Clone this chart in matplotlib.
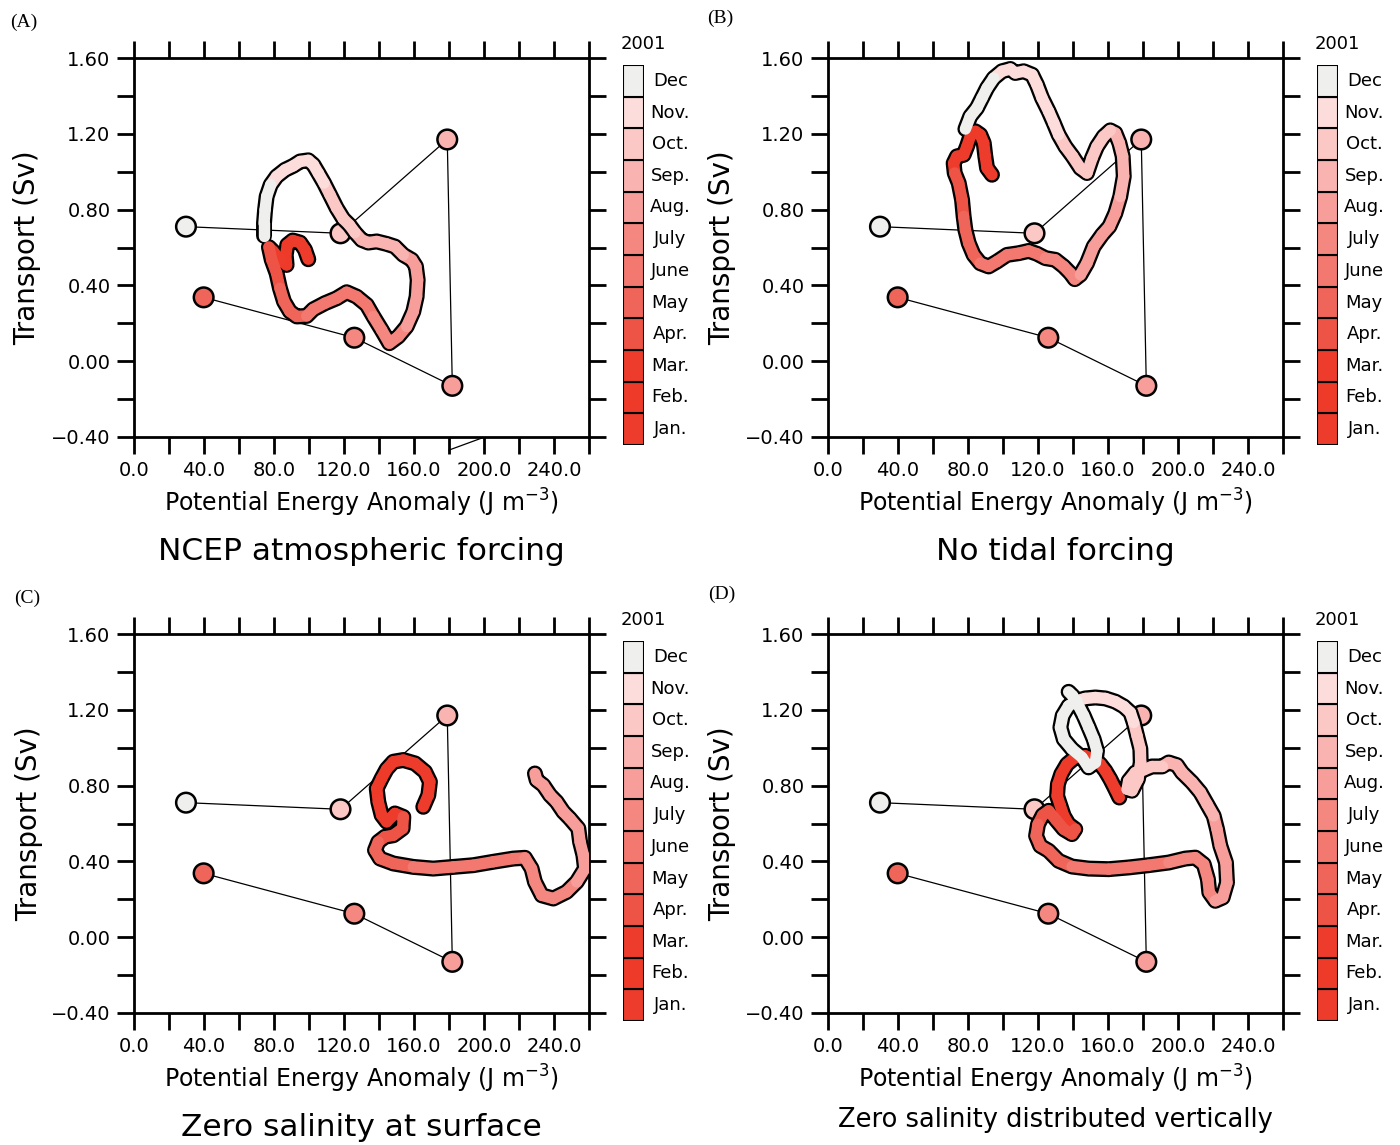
import matplotlib
matplotlib.use("Agg")
import matplotlib.pyplot as plt
from matplotlib.collections import LineCollection
from matplotlib.ticker import MultipleLocator, FuncFormatter

W, H = 1400, 1145

month_names = ['Jan.', 'Feb.', 'Mar.', 'Apr.', 'May', 'June', 'July',
               'Aug.', 'Sep.', 'Oct.', 'Nov.', 'Dec']
month_colors = ['#ee3c2c', '#ee3a29', '#ee3c2c', '#ee5446', '#f0655a', '#f27870',
                '#f4877f', '#f79e9a', '#f9b3b0', '#fbc8c5', '#fcdddb', '#efefed']

# monthly observations (same in every panel)
obs_x = [39.8, 125.9, 181.9, 179.0, 118.0, 29.7]
obs_y = [0.337, 0.124, -0.13, 1.17, 0.675, 0.71]
obs_month = [4, 6, 7, 8, 9, 11]

# stray segment under panel A
stray_x = [180.0, 198.9]
stray_y = [-0.469, -0.405]

# (A) NCEP atmospheric forcing
a_x = [99.6, 97.7, 94.9, 90.7, 87.6, 86.7, 87.2, 83.4, 79.6, 77.1, 78.7, 81.5, 83.4,
       85.7, 89.1, 93.0, 98.7, 102.5, 109.1, 115.8, 121.5, 127.2, 133.0, 136.8, 141.5,
       145.9, 151.0, 155.8, 159.6, 161.5, 162.1, 161.1, 158.7, 153.9, 149.1, 144.4,
       138.7, 133.9, 130.1, 126.3, 123.0, 119.6, 115.8, 112.0, 108.6, 105.3, 102.5,
       99.6, 94.9, 91.0, 86.3, 81.5, 78.1, 75.8, 74.9, 74.3, 74.3]
a_y = [0.538, 0.588, 0.626, 0.637, 0.614, 0.561, 0.508, 0.535, 0.579, 0.602, 0.535,
       0.464, 0.385, 0.315, 0.262, 0.236, 0.239, 0.274, 0.306, 0.332, 0.364, 0.341,
       0.297, 0.236, 0.165, 0.095, 0.130, 0.183, 0.262, 0.341, 0.429, 0.500, 0.535,
       0.561, 0.605, 0.619, 0.632, 0.626, 0.640, 0.679, 0.720, 0.751, 0.808, 0.878,
       0.940, 0.993, 1.037, 1.060, 1.054, 1.031, 1.010, 0.975, 0.931, 0.869, 0.799,
       0.729, 0.662]
a_m = [0, 0, 0, 0, 0, 1, 1, 1, 2, 2, 3, 3, 3, 4, 4, 4, 4, 5, 5, 5, 5, 5, 5, 5, 6, 6,
       6, 6, 7, 7, 7, 7, 7, 7, 8, 8, 8, 8, 8, 8, 9, 9, 9, 9, 9, 10, 10, 10, 10, 10, 10,
       10, 10, 11, 11, 11, 11]

# (B) No tidal forcing
b_x = [93.7, 90.9, 89.9, 89.0, 87.0, 84.2, 81.3, 79.4, 77.5, 73.7, 71.8, 72.4, 74.7,
       76.6, 77.5, 78.5, 80.4, 83.2, 87.0, 91.8, 96.6, 102.3, 109.0, 114.7, 119.4,
       124.2, 129.9, 134.7, 138.5, 141.0, 144.2, 148.0, 151.8, 156.6, 160.8, 164.2,
       167.0, 169.0, 168.4, 166.5, 164.2, 161.3, 157.5, 153.7, 150.9, 148.0, 144.2,
       139.8, 135.6, 131.8, 129.0, 126.1, 122.3, 119.4, 116.6, 111.8, 107.0, 104.2,
       99.4, 94.7, 90.9, 88.0, 85.1, 81.3, 78.5]
b_y = [0.984, 1.019, 1.081, 1.151, 1.195, 1.213, 1.186, 1.133, 1.089, 1.081, 1.045,
       0.993, 0.940, 0.852, 0.764, 0.693, 0.623, 0.561, 0.517, 0.500, 0.526, 0.561,
       0.570, 0.582, 0.567, 0.544, 0.535, 0.500, 0.464, 0.433, 0.456, 0.517, 0.605,
       0.667, 0.711, 0.781, 0.869, 0.975, 1.081, 1.151, 1.204, 1.218, 1.186, 1.133,
       1.072, 0.993, 1.019, 1.081, 1.133, 1.195, 1.257, 1.318, 1.389, 1.459, 1.512,
       1.530, 1.521, 1.542, 1.530, 1.494, 1.442, 1.389, 1.336, 1.292, 1.225]
b_m = [0, 0, 0, 0, 0, 1, 1, 1, 1, 2, 2, 2, 3, 3, 3, 4, 4, 4, 4, 5, 5, 5, 5, 5, 5, 5,
       6, 6, 6, 6, 6, 7, 7, 7, 7, 7, 7, 8, 8, 8, 8, 8, 9, 9, 9, 9, 9, 9, 9, 9, 10, 10,
       10, 10, 10, 10, 10, 10, 10, 10, 11, 11, 11, 11, 11]

# (C) Zero salinity at surface
c_x = [165.3, 168.2, 169.1, 166.3, 160.6, 153.9, 148.2, 144.4, 141.5, 138.7, 139.6,
       141.5, 144.4, 149.1, 153.9, 153.5, 148.2, 143.4, 139.6, 137.7, 140.6, 148.2,
       159.6, 171.0, 182.5, 193.9, 205.3, 216.8, 223.4, 227.2, 229.1, 233.0, 239.6,
       247.2, 253.0, 257.7, 256.8, 254.9, 253.9, 249.1, 245.3, 241.5, 237.7, 233.9,
       230.1, 229.1]
c_y = [0.688, 0.750, 0.820, 0.873, 0.917, 0.935, 0.926, 0.887, 0.838, 0.785, 0.714,
       0.644, 0.609, 0.653, 0.635, 0.574, 0.538, 0.530, 0.503, 0.459, 0.415, 0.389,
       0.371, 0.362, 0.371, 0.380, 0.398, 0.415, 0.419, 0.362, 0.292, 0.221, 0.204,
       0.239, 0.292, 0.362, 0.433, 0.503, 0.574, 0.626, 0.662, 0.714, 0.750, 0.802,
       0.829, 0.864]
c_m = [0, 0, 0, 0, 0, 0, 0, 0, 1, 1, 1, 2, 2, 2, 2, 3, 3, 3, 3, 4, 4, 4, 4, 5, 5, 5,
       5, 5, 5, 6, 6, 6, 6, 6, 6, 7, 7, 7, 7, 7, 7, 7, 7, 7, 7, 7]

# (D) Zero salinity distributed vertically
d_x = [166.5, 164.2, 161.3, 158.5, 155.6, 151.8, 147.0, 141.3, 136.6, 133.3, 131.4,
       130.9, 132.8, 134.7, 137.5, 141.3, 139.4, 134.7, 130.3, 126.1, 122.7, 120.0,
       118.9, 121.3, 126.1, 131.8, 139.4, 149.0, 160.4, 171.8, 183.2, 194.7, 204.2,
       209.9, 214.7, 217.1, 217.9, 221.3, 225.5, 228.0, 227.4, 224.2, 222.3, 220.4,
       216.6, 212.8, 208.0, 202.3, 199.4, 194.7, 190.9, 185.1, 180.4, 175.6, 171.8,
       170.9, 173.7, 177.1, 178.7, 178.5, 176.6, 174.7, 172.8, 169.0, 164.2, 158.5,
       152.8, 147.0, 142.3, 137.5, 134.1, 132.8, 134.7, 139.4, 145.1, 148.9, 152.8,
       153.7, 151.8, 149.0, 146.1, 143.2, 139.8, 137.5]
d_y = [0.737, 0.781, 0.834, 0.878, 0.913, 0.940, 0.957, 0.949, 0.913, 0.861, 0.808,
       0.746, 0.693, 0.640, 0.596, 0.570, 0.544, 0.570, 0.619, 0.667, 0.644, 0.596,
       0.535, 0.482, 0.456, 0.403, 0.373, 0.362, 0.359, 0.368, 0.380, 0.394, 0.415,
       0.420, 0.385, 0.306, 0.236, 0.192, 0.209, 0.288, 0.394, 0.482, 0.570, 0.640,
       0.702, 0.764, 0.817, 0.869, 0.908, 0.922, 0.901, 0.901, 0.883, 0.869, 0.825,
       0.781, 0.773, 0.834, 0.922, 0.993, 1.063, 1.133, 1.186, 1.218, 1.243, 1.260,
       1.265, 1.260, 1.248, 1.221, 1.169, 1.107, 1.045, 0.993, 0.949, 0.896, 0.922,
       0.984, 1.045, 1.107, 1.169, 1.221, 1.274, 1.295]
d_m = [0, 0, 0, 0, 0, 0, 0, 1, 1, 1, 1, 2, 2, 2, 2, 2, 3, 3, 3, 3, 3, 3, 4, 4, 4, 4,
       4, 5, 5, 5, 5, 5, 6, 6, 6, 6, 6, 6, 7, 7, 7, 7, 7, 7, 8, 8, 8, 8, 8, 8, 8, 9, 9,
       9, 9, 9, 9, 9, 9, 9, 9, 9, 10, 10, 10, 10, 10, 10, 10, 11, 11, 11, 11, 11, 11,
       11, 11, 11, 11, 11, 11, 11, 11, 11]

panels = [
  ('(A)', 'NCEP atmospheric forcing', a_x, a_y, a_m),
  ('(B)', 'No tidal forcing', b_x, b_y, b_m),
  ('(C)', 'Zero salinity at surface', c_x, c_y, c_m),
  ('(D)', 'Zero salinity distributed vertically', d_x, d_y, d_m),
]

# pixel layout: axes left, top; colorbar left, top; label positions and title size
layout = [
  dict(ax=(134, 58), cb=(623, 65), tag=(10, 22), ylab=27, xlab=503, title=552, tsize=22.5),
  dict(ax=(828, 58), cb=(1317, 65), tag=(707, 18), ylab=722, xlab=503, title=552, tsize=22.5),
  dict(ax=(134, 634), cb=(623, 641), tag=(14, 598), ylab=29, xlab=1079, title=1128, tsize=22.5),
  dict(ax=(828, 634), cb=(1317, 641), tag=(708, 594), ylab=722, xlab=1079, title=1120, tsize=18.5),
]
AX_W, AX_H = 455, 379
CB_W, CB_H = 21, 380


def fx(px):
  return px / W


def fy(py):
  return 1 - py / H


def xfmt(v, pos):
  return '%.1f' % v if round(v) % 40 == 0 else ''


def yfmt(v, pos):
  v = round(v, 2)
  if abs(round(v / 0.4) * 0.4 - v) > 1e-6:
    return ''
  return ('%.2f' % v).replace('-', '\u2212')


def draw_panel(fig, tag, title, x, y, m, lay, stray=False):
  left, top = lay['ax']
  ax = fig.add_axes([fx(left), fy(top + AX_H), fx(AX_W), AX_H / H])
  ax.set_xlim(0, 260)
  ax.set_ylim(-0.4, 1.6)
  ax.xaxis.set_major_locator(MultipleLocator(20))
  ax.yaxis.set_major_locator(MultipleLocator(0.2))
  ax.xaxis.set_major_formatter(FuncFormatter(xfmt))
  ax.yaxis.set_major_formatter(FuncFormatter(yfmt))
  ax.tick_params(direction='out', length=12, width=2, top=True, right=True,
                 labelsize=14, pad=5)
  for sp in ax.spines.values():
    sp.set_linewidth(2)

  # observations
  ax.plot(obs_x, obs_y, color='black', lw=0.9, zorder=2)
  ax.scatter(obs_x, obs_y, s=200, c=[month_colors[k] for k in obs_month],
             edgecolors='black', linewidths=1.8, zorder=3)
  if stray:
    ax.plot(stray_x, stray_y, color='black', lw=0.9, clip_on=False)

  # model trajectory
  ax.plot(x, y, color='black', lw=11.5, solid_capstyle='round',
          solid_joinstyle='round', zorder=4)
  segs = [[(x[i], y[i]), (x[i + 1], y[i + 1])] for i in range(len(x) - 1)]
  cols = [month_colors[m[i + 1]] for i in range(len(x) - 1)]
  lc = LineCollection(segs, colors=cols, linewidths=8.2, capstyle='round',
                      joinstyle='round', zorder=5)
  ax.add_collection(lc)

  # month colour key
  cl, ct = lay['cb']
  cax = fig.add_axes([fx(cl), fy(ct + CB_H), fx(CB_W), CB_H / H])
  cax.bar(0.5, 1, width=1, bottom=range(12), color=month_colors,
          edgecolor='black', linewidth=1.5)
  cax.set_xlim(0, 1)
  cax.set_ylim(0, 12)
  cax.axis('off')
  for i, name in enumerate(month_names):
    cax.text(2.25, i + 0.5, name, ha='center', va='center', fontsize=13)
  cax.text(0.95, 12.65, '2001', ha='center', va='center', fontsize=13)

  cx = left + AX_W / 2
  fig.text(fx(lay['tag'][0]), fy(lay['tag'][1]), tag, family='Liberation Serif',
           fontsize=14, va='center', ha='left')
  fig.text(fx(lay['ylab']), fy(top + AX_H / 2), 'Transport (Sv)', rotation=90,
           ha='center', va='center', fontsize=20)
  fig.text(fx(cx), fy(lay['xlab']), 'Potential Energy Anomaly (J m$^{-3}$)',
           ha='center', va='center', fontsize=17)
  fig.text(fx(cx), fy(lay['title']), title, ha='center', va='center',
           fontsize=lay['tsize'])


def main():
  plt.rcParams['font.family'] = 'DejaVu Sans'
  plt.rcParams['mathtext.default'] = 'regular'
  fig = plt.figure(figsize=(W / 100, H / 100), dpi=100)
  for k, (tag, title, x, y, m) in enumerate(panels):
    draw_panel(fig, tag, title, x, y, m, layout[k], stray=(k == 0))
  fig.savefig('out.png', dpi=100)


if __name__ == '__main__':
  main()
